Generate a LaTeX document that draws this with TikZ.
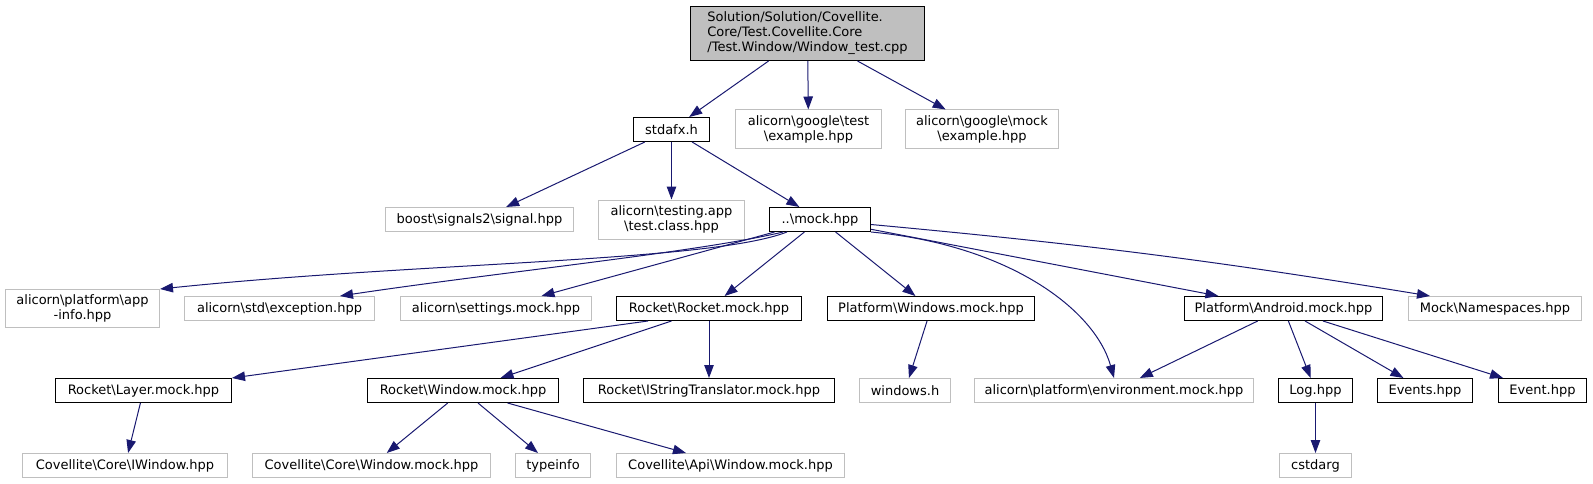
\documentclass[tikz,border=0pt]{standalone}
\usepackage{fontspec}
\setmainfont{DejaVu Sans}
\usepackage{tikz}
\usetikzlibrary{arrows.meta,positioning}
\definecolor{edgeblue}{RGB}{25,25,112}
\definecolor{extgray}{RGB}{191,191,191}
\newcommand{\bsl}{\textbackslash}

\begin{document}
\begin{tikzpicture}[x=1pt, y=-1pt, node distance=24pt]
    \tikzset{incfile/.style={rectangle, draw=black, fill=white, line width=1pt, minimum height=24pt, inner sep=2pt, align=center, font=\fontsize{13}{15}\selectfont}}
    \tikzset{extfile/.style={incfile, draw=extgray}}
    \tikzset{rootfile/.style={incfile, fill=extgray, align=left}}
    \tikzset{incarrow/.style={-{Triangle[length=13pt, width=9.5pt]}, color=edgeblue, line width=1pt}}

    \useasboundingbox (0,0) rectangle (1593,484);

    % Root
    \node[rootfile, minimum width=234pt, minimum height=54pt] (root) at (807.5,33.5) {Solution/Solution/Covellite.\\Core/Test.Covellite.Core\\/Test.Window/Window\_test.cpp};

    % Level 1
    \node[incfile, minimum width=76pt] (stdafx) at (671.5,129.5) {stdafx.h};
    \node[extfile, minimum width=146pt, minimum height=39pt, right=25pt of stdafx] (gtest) {alicorn\bsl google\bsl test\\\bsl example.hpp};
    \node[extfile, minimum width=153pt, minimum height=39pt, right=23pt of gtest] (gmock) {alicorn\bsl google\bsl mock\\\bsl example.hpp};

    % Level 2
    \node[extfile, minimum width=188pt] (boost) at (479.5,219.5) {boost\bsl signals2\bsl signal.hpp};
    \node[extfile, minimum width=146pt, minimum height=39pt, right=of boost] (testing) {alicorn\bsl testing.app\\\bsl test.class.hpp};
    \node[incfile, minimum width=101pt, right=of testing] (mock) {..\bsl mock.hpp};

    % Level 3
    \node[extfile, minimum width=154pt, minimum height=38pt] (appinfo) at (82.5,308.5) {alicorn\bsl platform\bsl app\\-info.hpp};
    \node[extfile, minimum width=190pt, right=of appinfo] (exception) {alicorn\bsl std\bsl exception.hpp};
    \node[extfile, minimum width=191pt, right=25pt of exception] (settings) {alicorn\bsl settings.mock.hpp};
    \node[incfile, minimum width=185pt, right=of settings] (rocket) {Rocket\bsl Rocket.mock.hpp};
    \node[incfile, minimum width=207pt, right=25pt of rocket] (winmock) {Platform\bsl Windows.mock.hpp};
    \node[incfile, minimum width=198pt, right=149pt of winmock] (android) {Platform\bsl Android.mock.hpp};
    \node[extfile, minimum width=173pt, right=25pt of android] (namespaces) {Mock\bsl Namespaces.hpp};

    % Level 4
    \node[incfile, minimum width=176pt] (layer) at (143.5,390.5) {Rocket\bsl Layer.mock.hpp};
    \node[incfile, minimum width=191pt, right=135pt of layer] (rwindow) {Rocket\bsl Window.mock.hpp};
    \node[incfile, minimum width=251pt, right=of rwindow] (istring) {Rocket\bsl IStringTranslator.mock.hpp};
    \node[extfile, minimum width=91pt, right=of istring] (windowsh) {windows.h};
    \node[extfile, minimum width=279pt, right=23pt of windowsh] (env) {alicorn\bsl platform\bsl environment.mock.hpp};
    \node[incfile, minimum width=74pt, right=of env] (log) {Log.hpp};
    \node[incfile, minimum width=95pt, right=of log] (events) {Events.hpp};
    \node[incfile, minimum width=88pt, right=25pt of events] (event) {Event.hpp};

    % Level 5
    \node[extfile, minimum width=205pt] (iwindow) at (125,465.5) {Covellite\bsl Core\bsl IWindow.hpp};
    \node[extfile, minimum width=238pt, right=of iwindow] (corewin) {Covellite\bsl Core\bsl Window.mock.hpp};
    \node[extfile, minimum width=75pt, right=of corewin] (typeinfo) {typeinfo};
    \node[extfile, minimum width=228pt, right=25pt of typeinfo] (apiwin) {Covellite\bsl Api\bsl Window.mock.hpp};
    \node[extfile, minimum width=72pt, right=434pt of apiwin] (cstdarg) {cstdarg};

    % Includes
    \draw[incarrow] (root) -- (stdafx);
    \draw[incarrow] (root) -- (gtest);
    \draw[incarrow] (root) -- (gmock);
    \draw[incarrow] (stdafx) -- (boost);
    \draw[incarrow] (stdafx) -- (testing);
    \draw[incarrow] (stdafx) -- (mock);
    \draw[incarrow] ([xshift=18pt]mock.south west) .. controls (710,262) and (420,262) .. (appinfo.north east);
    \draw[incarrow] ([xshift=14pt]mock.south west) .. controls (700,252) and (500,272) .. ([xshift=-35pt]exception.north east);
    \draw[incarrow] (mock) -- (settings);
    \draw[incarrow] (mock) -- (rocket);
    \draw[incarrow] (mock) -- (winmock);
    \draw[incarrow] (mock.south east) .. controls (1010,245) and (1095,310) .. (env.north);
    \draw[incarrow] (mock) -- (android);
    \draw[incarrow] ([yshift=-5pt]mock.east) to[bend left=2] ([xshift=-65pt]namespaces.north);
    \draw[incarrow] ([xshift=-61pt]rocket.south) -- (layer.north east);
    \draw[incarrow] (rocket) -- (rwindow);
    \draw[incarrow] (rocket) -- (istring);
    \draw[incarrow] (winmock) -- (windowsh);
    \draw[incarrow] (android) -- (env);
    \draw[incarrow] (android) -- (log);
    \draw[incarrow] (android) -- (events);
    \draw[incarrow] (android) -- (event);
    \draw[incarrow] (layer) -- (iwindow);
    \draw[incarrow] (rwindow) -- (corewin);
    \draw[incarrow] (rwindow) -- (typeinfo);
    \draw[incarrow] (rwindow) -- (apiwin);
    \draw[incarrow] (log) -- (cstdarg);
\end{tikzpicture}
\end{document}
